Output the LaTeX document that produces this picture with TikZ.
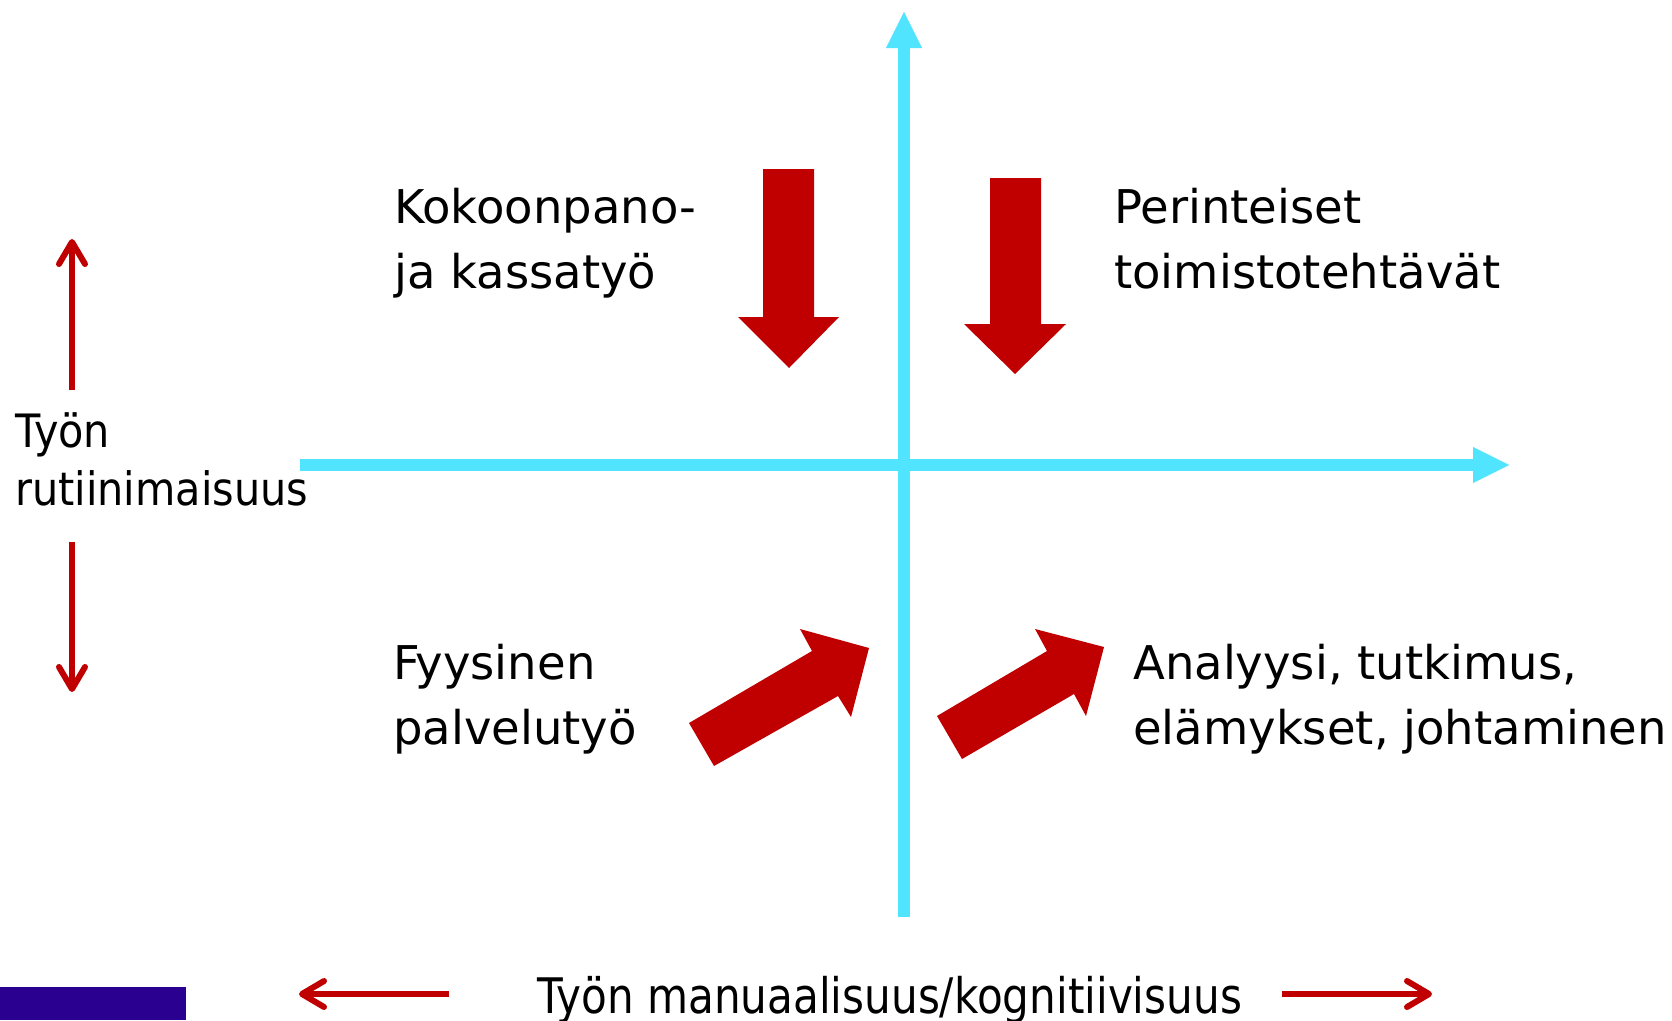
\documentclass[tikz,border=0pt]{standalone}
\usepackage{fontspec}
\setmainfont{DejaVu Sans}
\newfontfamily\lblfont{DejaVu Sans}
\newfontfamily\sidefont[FakeStretch=0.9]{DejaVu Sans}
\newfontfamily\axisfont[FakeStretch=0.86]{DejaVu Sans}
\usetikzlibrary{arrows.meta}
\definecolor{axiscyan}{RGB}{80,228,255}
\definecolor{darkred}{RGB}{192,0,0}
\definecolor{logopurple}{RGB}{42,0,144}
\tikzset{
  axisline/.style={draw=axiscyan, line width=12pt, -{Triangle[length=36pt,width=36pt,line width=0.1pt]}},
  thinarrow/.style={draw=darkred, line width=6pt, -{Straight Barb[length=22pt,width=26pt,round]}},
  blockarrow/.style={fill=darkred},
  quadlabel/.style={anchor=base west, inner sep=0pt, align=left, font=\lblfont\fontsize{46.5}{65}\selectfont},
  sidelabel/.style={anchor=base west, inner sep=0pt, align=left, font=\sidefont\fontsize{46}{58}\selectfont},
  bottomlabel/.style={anchor=base west, inner sep=0pt, font=\axisfont\fontsize{49}{58}\selectfont}
}
\begin{document}
\begin{tikzpicture}[x=1pt,y=-1pt]
\useasboundingbox (0,0) rectangle (1672,1020);
\fill[white] (0,0) rectangle (1672,1020);

% logo box
\fill[logopurple] (0,987) rectangle (186,1020);

% axes
\coordinate (vbot) at (904,917);
\coordinate (vtop) at (904,12);
\coordinate (hleft) at (300,465);
\coordinate (hright) at (1509,465);
\draw[axisline] (vbot) -- (vtop);
\draw[axisline] (hleft) -- (hright);

% block arrows
\fill[blockarrow] (763,169) -- (814,169) -- (814,317) -- (839,317) -- (789,368) -- (738,317) -- (763,317) -- cycle;
\fill[blockarrow] (990,178) -- (1041,178) -- (1041,324) -- (1066,324) -- (1015,374) -- (964,324) -- (990,324) -- cycle;
\fill[blockarrow] (689,723) -- (812,651) -- (800,629) -- (869,648) -- (851,717) -- (838,696) -- (714,766) -- cycle;
\fill[blockarrow] (937,716) -- (1047,651) -- (1035,629) -- (1104,647) -- (1086,716) -- (1074,694) -- (962,759) -- cycle;

% quadrant labels (anchored at the baseline of the last line)
\node[quadlabel] (kok) at (394,288) {Kokoonpano-\\ja kassatyö};
\node[quadlabel] (per) at (1114,288) {Perinteiset\\toimistotehtävät};
\node[quadlabel] (fyy) at (393,744) {Fyysinen\\palvelutyö};
\node[quadlabel] (ana) at (1133,744) {Analyysi, tutkimus,\\elämykset, johtaminen};

% side label and arrows
\node[sidelabel] (rut) at (15,505) {Työn\\rutiinimaisuus};
\coordinate (upfrom) at (72,390);
\coordinate (upto) at (72,239);
\coordinate (dnfrom) at (72,542);
\coordinate (dnto) at (72,692);
\draw[thinarrow] (upfrom) -- (upto);
\draw[thinarrow] (dnfrom) -- (dnto);

% bottom label and arrows
\node[bottomlabel] (man) at (537,1013) {Työn manuaalisuus/kognitiivisuus};
\coordinate (lfrom) at (449,994);
\coordinate (lto) at (299,994);
\coordinate (rfrom) at (1282,994);
\coordinate (rto) at (1432,994);
\draw[thinarrow] (lfrom) -- (lto);
\draw[thinarrow] (rfrom) -- (rto);
\end{tikzpicture}
\end{document}
